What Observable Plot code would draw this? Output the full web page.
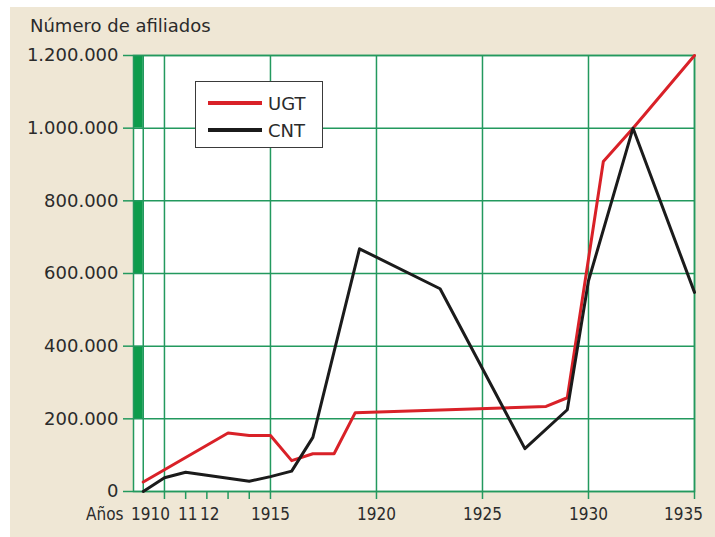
<!DOCTYPE html>
<html>
<head>
<meta charset="utf-8">
<script src="https://cdn.jsdelivr.net/npm/d3@7"></script>
<script src="https://cdn.jsdelivr.net/npm/@observablehq/plot@0.6"></script>
<style>
  html, body { margin: 0; padding: 0; background: #ffffff; }
  #wrap { position: relative; width: 715px; height: 537px; overflow: hidden; font-family: "DejaVu Sans", Verdana, sans-serif; color: #2b2b2b; }
  #panel { position: absolute; left: 10px; top: 7px; right: 0; bottom: 0; background: #efe7d5; }
  #title { position: absolute; left: 30px; top: 14px; font-size: 18px; line-height: 24px; white-space: nowrap; }
  #chart { position: absolute; left: 0; top: 0; }
  #legend { position: absolute; left: 195px; top: 81px; width: 126px; height: 65px; background: #fff; border: 1.5px solid #3a3a3a; }
  .sw { position: absolute; left: 12px; width: 54px; height: 4px; }
  .lt { position: absolute; left: 72px; font-size: 18px; line-height: 20px; }
</style>
</head>
<body>
<div id="wrap">
  <div id="panel"></div>
  <div id="chart"></div>
  <div id="title">Número de afiliados</div>
  <div id="legend">
    <div class="sw" style="top:19px;background:#d92128;"></div>
    <div class="lt" style="top:12px;">UGT</div>
    <div class="sw" style="top:46px;background:#1b1b1b;"></div>
    <div class="lt" style="top:39px;">CNT</div>
  </div>
</div>
<script>
// ---- data ----
const ugtYears  = [1909, 1913, 1914, 1915, 1916, 1917, 1918, 1919, 1928, 1929, 1930.7, 1932.1, 1935];
const ugtValues = [26000, 161000, 154000, 154000, 85000, 104000, 104000, 217000, 234000, 258000, 908000, 1000000, 1200000];

const cntYears  = [1909, 1910, 1911, 1914, 1915, 1916, 1917, 1919.2, 1923, 1927, 1929, 1930, 1932.1, 1935];
const cntValues = [0, 38000, 53000, 28000, 41000, 56000, 149000, 668000, 558000, 118000, 225000, 580000, 1000000, 548000];

const yTicks = [0, 200000, 400000, 600000, 800000, 1000000, 1200000];
const xGridYears = [1909, 1910, 1915, 1920, 1925, 1930, 1935];
const xTickYears = [1910, 1911, 1912, 1913, 1914, 1915, 1920, 1925, 1930, 1935];
const xLabelYears = [1910, 1911, 1912, 1915, 1920, 1925, 1930, 1935];
const xLabelTexts = ["1910", "11", "12", "1915", "1920", "1925", "1930", "1935"];
const scaleBandLows  = [1000000, 600000, 200000];
const scaleBandHighs = [1200000, 800000, 400000];

// ---- build tables ----
const ugt = ugtYears.map((x, i) => ({x, y: ugtValues[i]}));
const cnt = cntYears.map((x, i) => ({x, y: cntValues[i]}));
const bands = scaleBandLows.map((lo, i) => ({lo, hi: scaleBandHighs[i]}));
const labels = xLabelYears.map((x, i) => ({x, t: xLabelTexts[i]}));

const xStart = 1908.54, xEnd = 1935;
const grid = "#23995e", barGreen = "#0d9c4b", txt = "#2b2b2b";
const fmt = d => d3.format(",")(d).replace(/,/g, ".");
const condensed = "'DejaVu Sans Condensed', 'Liberation Sans Narrow', 'DejaVu Sans', sans-serif";

const shift = {"1910": -14, "11": 2, "12": 3, "1935": -11};

const chart = Plot.plot({
  width: 715, height: 537,
  marginLeft: 133, marginRight: 21, marginTop: 55, marginBottom: 46,
  style: {background: "transparent", fontFamily: "'DejaVu Sans', sans-serif", fontSize: "18px", color: txt, overflow: "visible"},
  x: {domain: [xStart, xEnd], axis: null},
  y: {domain: [0, 1200000], axis: null},
  marks: [
    Plot.frame({fill: "white", stroke: null}),
    Plot.rect(bands, {x1: () => xStart, x2: () => xGridYears[0], y1: "lo", y2: "hi", fill: barGreen}),
    Plot.ruleY(yTicks, {stroke: grid, strokeWidth: 1.5}),
    Plot.ruleX(xGridYears, {stroke: grid, strokeWidth: 1.5}),
    Plot.frame({stroke: grid, strokeWidth: 1.5}),
    Plot.axisY(yTicks, {tickSize: 10, tickPadding: 5, tickFormat: fmt, stroke: grid, strokeWidth: 1.5, fill: txt, fontSize: 18, label: null}),
    Plot.axisX(xTickYears, {tickSize: 8, tickFormat: () => "", stroke: grid, strokeWidth: 1.5, label: null}),
    ...labels.map(l => Plot.text([l], {x: "x", text: "t", frameAnchor: "bottom", dy: 28, dx: shift[l.t] || 0, lineAnchor: "bottom", fill: txt, fontSize: 17, fontFamily: condensed})),
    Plot.text(["Años"], {frameAnchor: "bottom-left", dx: -10, dy: 28, textAnchor: "end", lineAnchor: "bottom", fill: txt, fontSize: 17, fontFamily: condensed}),
    Plot.line(ugt, {x: "x", y: "y", stroke: "#d92128", strokeWidth: 3}),
    Plot.line(cnt, {x: "x", y: "y", stroke: "#1b1b1b", strokeWidth: 3})
  ]
});
document.getElementById("chart").appendChild(chart);
</script>
</body>
</html>
